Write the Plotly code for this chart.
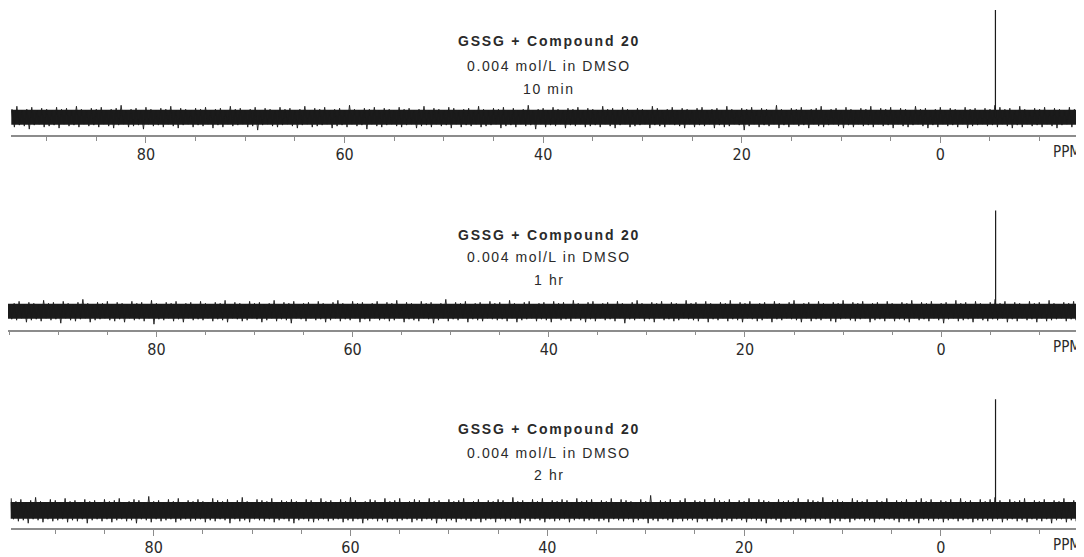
import plotly.graph_objects as go

# ---------------- data ----------------
panel_labels = ["10 min", "1 hr", "2 hr"]
title_line1 = "GSSG + Compound 20"
title_line2 = "0.004 mol/L in DMSO"

# noise samples (ppm), every 0.5 ppm from 95.5 down to -15
ppm_start, ppm_step = 95.5, -0.5

peak_ppm = [-5.55, -5.55, -5.55]
peak_height = [108, 101.5, 112]

# upper / lower excursions of the baseline noise (intensity units above / below baseline)
noise_up_10min = [
    8,10,7,9,8,11,7,8,10,7,9,8,7,10,8,9,7,11,8,7,
    9,8,10,7,8,9,12,7,8,9,7,10,8,7,9,8,11,7,9,8,
    7,9,8,10,7,8,9,7,11,8,9,7,8,10,7,9,8,7,10,8,
    9,7,8,11,7,9,8,10,7,8,9,7,12,8,7,9,8,10,7,9,
    8,7,10,8,9,7,8,11,7,9,8,7,10,9,7,8,9,7,11,8,
    7,9,8,10,7,9,7,8,12,7,8,9,7,10,8,7,9,8,10,7,
    9,8,7,11,8,9,7,10,8,7,9,8,7,11,9,7,8,10,7,9,
    8,7,9,10,7,8,9,7,11,8,7,9,8,10,7,9,8,7,12,8,
    7,9,8,10,7,8,9,11,7,8,9,7,10,8,7,9,8,11,7,9,
    8,10,7,9,8,7,11,8,9,7,8,10,7,9,8,7,10,8,9,7,
    9,8,12,10,8,9,7,11,8,7,9,8,10,7,9,8,7,10,8,9,
    7,8]
noise_dn_10min = [
    9,8,11,7,10,8,9,12,8,7,10,9,8,11,7,9,8,10,7,9,
    8,10,7,9,11,8,7,10,9,8,12,7,9,8,10,7,9,11,8,7,
    10,8,9,7,11,8,10,7,9,8,7,10,9,13,8,7,9,10,8,7,
    9,11,8,7,10,9,8,7,11,9,8,10,7,9,8,12,7,9,10,8,
    7,9,10,8,7,11,9,8,10,7,9,8,11,7,10,8,9,7,10,9,
    8,7,11,9,8,10,7,9,8,12,7,10,8,9,7,11,8,9,7,10,
    9,8,10,7,9,11,8,7,10,9,8,7,11,8,9,10,7,8,9,11,
    7,10,8,9,7,11,8,10,9,7,8,13,9,7,10,8,9,7,11,8,
    10,7,9,8,11,7,9,10,8,7,9,11,8,10,7,9,8,10,7,9,
    8,11,7,9,10,8,7,9,11,8,10,7,9,8,10,7,11,9,8,7,
    9,8,10,7,9,11,8,10,7,9,8,10,7,9,11,8,7,10,9,8,
    10,8]

noise_up_1hr = [
    9,7,8,10,7,9,8,7,11,8,9,7,10,8,7,9,12,8,7,9,
    8,10,7,9,8,7,10,8,9,7,11,8,7,9,8,10,7,8,9,7,
    10,8,7,9,8,11,7,9,8,7,10,8,9,7,8,11,7,9,8,10,
    7,8,9,7,10,8,7,9,11,8,7,10,8,9,7,8,10,7,9,8,
    11,7,9,8,7,10,8,9,7,8,12,7,9,8,10,7,8,9,7,10,
    8,9,7,11,8,7,9,10,7,8,9,7,10,8,9,7,11,8,7,9,
    10,7,8,9,7,10,8,7,9,11,8,7,9,8,10,7,9,8,7,11,
    8,9,7,10,8,7,9,8,11,7,9,8,10,7,8,9,7,10,8,7,
    9,11,7,8,9,7,10,8,7,9,8,11,7,9,8,10,7,8,9,7,
    10,8,7,9,8,11,7,9,8,10,7,8,9,7,11,8,9,7,10,8,
    7,9,12,8,10,7,9,8,7,10,8,9,7,11,8,7,9,8,10,7,
    9,8]
noise_dn_1hr = [
    10,8,9,7,11,9,8,10,7,9,8,12,7,9,10,8,7,11,9,8,
    7,9,10,8,11,7,9,8,10,7,13,8,9,7,10,8,11,7,9,8,
    9,7,10,8,9,11,7,8,10,9,7,8,11,9,7,10,8,9,12,7,
    8,10,7,9,8,11,9,7,10,8,9,7,11,8,10,7,9,8,10,9,
    7,11,8,9,10,7,8,12,9,7,10,8,9,7,11,8,9,10,7,8,
    9,8,10,7,11,9,8,7,10,8,9,11,7,9,8,10,7,9,11,8,
    10,7,9,8,10,7,12,8,9,7,10,8,11,7,9,8,10,9,7,8,
    9,10,7,11,8,9,7,10,8,9,11,7,8,10,9,7,11,8,9,7,
    8,9,11,7,10,8,9,7,10,11,8,7,9,10,8,7,11,9,8,10,
    7,10,8,9,11,7,9,8,10,7,9,12,8,7,10,9,8,11,7,9,
    10,8,9,7,11,8,10,7,9,8,11,7,10,9,8,7,10,8,9,11,
    8,10]

noise_up_2hr = [
    10,8,12,9,11,8,10,13,9,8,11,10,8,12,9,10,8,11,9,10,
    8,11,9,10,12,8,9,11,10,8,14,9,10,8,11,9,12,8,10,9,
    11,9,8,12,10,9,11,8,10,13,9,8,11,10,9,12,8,10,9,11,
    9,8,11,10,8,12,9,10,8,11,9,13,10,8,9,11,10,8,12,9,
    10,12,8,9,11,10,8,12,9,10,8,11,9,10,12,8,9,11,8,10,
    9,11,10,8,13,9,10,8,11,9,12,8,10,9,11,10,8,12,9,10,
    11,8,10,9,12,8,11,10,9,8,11,9,15,8,10,9,11,8,10,12,
    8,10,9,11,8,12,10,9,11,8,10,9,12,8,11,10,9,8,11,9,
    10,9,12,8,11,10,9,13,8,10,11,9,8,12,10,9,11,8,10,9,
    12,8,10,9,11,8,10,12,9,11,8,10,9,11,8,12,9,10,8,11,
    9,11,13,10,8,11,9,10,12,8,10,9,11,8,10,9,12,8,10,9,
    11,9]
noise_dn_2hr = [
    10,12,9,11,10,13,9,10,12,9,11,10,9,12,10,11,9,13,10,9,
    11,9,12,10,9,11,10,13,9,10,12,9,11,10,9,12,10,9,11,10,
    9,12,10,11,9,10,13,9,11,10,12,9,10,11,9,12,10,9,11,13,
    10,9,11,12,10,9,11,10,9,12,10,11,9,13,10,9,11,10,12,9,
    11,10,9,12,10,11,9,10,13,9,11,10,12,9,10,11,9,12,10,9,
    12,9,11,10,9,13,10,11,9,10,12,9,11,10,9,12,10,9,11,10,
    9,11,10,12,9,10,11,9,12,10,9,13,10,11,9,10,12,9,11,10,
    10,12,9,11,10,9,12,10,11,9,10,12,9,10,11,13,9,10,12,9,
    11,9,10,12,9,11,10,9,13,10,11,9,12,10,9,11,10,12,9,10,
    9,10,12,9,11,10,13,9,10,11,9,12,10,9,11,10,9,12,10,11,
    10,11,9,12,10,9,11,10,12,9,10,11,9,13,10,9,12,10,11,9,
    10,12]

noise_up = [noise_up_10min, noise_up_1hr, noise_up_2hr]
noise_dn = [noise_dn_10min, noise_dn_1hr, noise_dn_2hr]

# ---------------- layout geometry (reference-picture pixels) ----------------
OFF = 8                      # browser body margin: the figure starts 8 px in
W, H = 1084 - OFF, 557 - OFF
axis_left_ref = [11.3, 8.0, 10.7]
axis_ppm_range = [[93.56, -14.47], [95.13, -14.56], [94.53, -14.54]]
axis_line_ref = [136.0, 332.0, 531.7]
axis_top_ref = [8.0, 196.0, 395.7]
baseline_offset = [18.0, 18.5, 17.7]      # baseline height above the axis line
title_y_ref = [[41.3, 66.7, 90.0], [237.0, 258.5, 282.0], [432.5, 456.7, 478.5]]
title_x_ref = 549
ppm_label_x_ref = 1051
core_half = [7.5, 7.5, 8.5]                # half-height of the solid noise core

INK = "#1b1b1b"
AXIS_GREY = "#8c8c8c"
TEXT = "#2a2a2a"
TICK_FONT = "DejaVu Sans Condensed, Liberation Sans Narrow, Liberation Sans, Arial"


def px(xr):
    return (xr - OFF) / W


def py(yr):
    return 1 - (yr - OFF) / H


fig = go.Figure()
annotations = []

for i in range(3):
    n = min(len(noise_up[i]), len(noise_dn[i]))
    ppm = [ppm_start + ppm_step * k for k in range(n)]
    sfx = "" if i == 0 else str(i + 1)
    xref, yref = "x" + sfx, "y" + sfx
    c = core_half[i]

    # solid core of the noise band
    fig.add_trace(go.Scatter(
        x=[ppm[0], ppm[-1], ppm[-1], ppm[0]], y=[c, c, -c, -c],
        mode="lines", fill="toself", fillcolor=INK, line=dict(width=0),
        xaxis=xref, yaxis=yref, showlegend=False, hoverinfo="skip"))
    # noise trace: alternating upward and downward excursions
    zx, zy = [], []
    for k in range(n):
        zx += [ppm[k], ppm[k] + ppm_step / 2]
        zy += [noise_up[i][k], -noise_dn[i][k]]
    fig.add_trace(go.Scatter(
        x=zx, y=zy, mode="lines", line=dict(color=INK, width=0.9),
        xaxis=xref, yaxis=yref, showlegend=False, hoverinfo="skip"))
    # the single resonance
    fig.add_trace(go.Scatter(
        x=[peak_ppm[i], peak_ppm[i]], y=[0, peak_height[i]],
        mode="lines", line=dict(color=INK, width=1.2),
        xaxis=xref, yaxis=yref, showlegend=False))

    span_px = axis_line_ref[i] - axis_top_ref[i]
    fig.layout["xaxis" + sfx] = dict(
        domain=[max(0, px(axis_left_ref[i])), 1], range=axis_ppm_range[i],
        anchor=yref, showline=True, linecolor=AXIS_GREY, linewidth=1.5,
        showgrid=False, zeroline=False,
        tickmode="linear", tick0=0, dtick=20,
        ticks="outside", ticklen=6, tickwidth=1, tickcolor=AXIS_GREY,
        minor=dict(tick0=0, dtick=5, ticks="outside", ticklen=4,
                   tickwidth=1, tickcolor=AXIS_GREY, showgrid=False),
        tickfont=dict(family=TICK_FONT, size=16, color=TEXT),
        ticklabelstandoff=-2, fixedrange=True)
    fig.layout["yaxis" + sfx] = dict(
        domain=[py(axis_line_ref[i]), min(1, py(axis_top_ref[i]))],
        range=[-baseline_offset[i], span_px - baseline_offset[i]],
        anchor=xref, visible=False, fixedrange=True)

    texts = [
        "<b><span style='letter-spacing:1.8px'>%s</span></b>" % title_line1,
        "<span style='letter-spacing:1.6px'>%s</span>" % title_line2,
        "<span style='letter-spacing:1.6px'>%s</span>" % panel_labels[i],
    ]
    for t, yr in zip(texts, title_y_ref[i]):
        annotations.append(dict(
            text=t, x=px(title_x_ref), y=py(yr), xref="paper", yref="paper",
            xanchor="center", yanchor="middle", showarrow=False,
            font=dict(family="Liberation Sans, Arial", size=14, color=TEXT)))
    annotations.append(dict(
        text="PPM", x=px(ppm_label_x_ref), y=py(axis_line_ref[i] + 17.3),
        xref="paper", yref="paper", xanchor="left", yanchor="middle",
        showarrow=False, font=dict(family=TICK_FONT, size=15, color=TEXT)))

fig.update_layout(
    width=W, height=H, margin=dict(l=0, r=0, t=0, b=0),
    paper_bgcolor="white", plot_bgcolor="white",
    annotations=annotations, showlegend=False)

fig.write_html("out.html")
